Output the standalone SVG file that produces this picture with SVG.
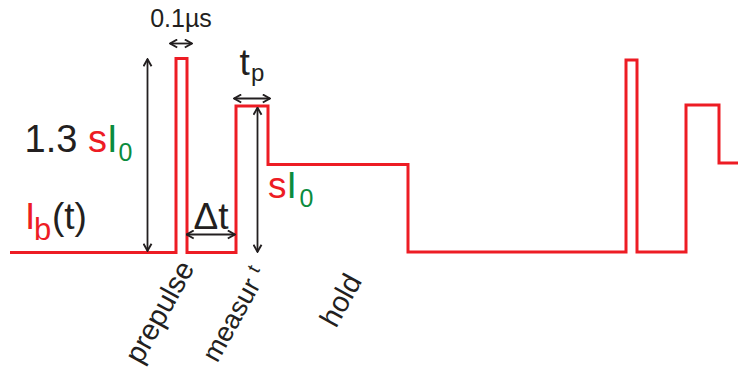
<svg xmlns="http://www.w3.org/2000/svg" width="738" height="368" viewBox="0 0 738 368">
<style>
text{font-family:"Liberation Sans",Arial,sans-serif;fill:#231F20}
.r{fill:#ED1C24}
.g{fill:#0B8C3E}
.arr{stroke:#231F20;stroke-width:1.8;fill:none;marker-start:url(#ah);marker-end:url(#ah)}
</style>
<defs>
<marker id="ah" viewBox="0 0 10 10" refX="9.2" refY="5" markerWidth="10" markerHeight="10" markerUnits="userSpaceOnUse" orient="auto-start-reverse">
<path d="M2,1 L9,5 L2,9" fill="none" stroke="#231F20" stroke-width="1.9"/>
</marker>
</defs>
<g id="signal">
<polyline fill="none" stroke="#ED1C24" stroke-width="3" points="10,252.5 176,252.5 176,58.5 187,58.5 187,252.5 236,252.5 236,106 268,106 268,164.5 408,164.5 408,252 626,252 626,60 637,60 637,252 686,252 686,105 719,105 719,163 738,163"/>
</g>
<g id="connectors">
<line class="arr" x1="147.5" y1="59" x2="147.5" y2="251"/>
<line class="arr" x1="170" y1="43.5" x2="192" y2="43.5"/>
<line class="arr" x1="186.5" y1="234.5" x2="235" y2="234.5"/>
<line class="arr" x1="234" y1="98.5" x2="270" y2="98.5"/>
<line class="arr" x1="257.5" y1="107.5" x2="257.5" y2="252"/>
</g>
<g id="label-width">
<text x="181" y="26.5" font-size="25" text-anchor="middle">0.1µs</text>
</g>
<g id="label-amp">
<text x="24.5" y="152" font-size="38">1.3 <tspan class="r">s</tspan><tspan class="g">I</tspan></text>
<text x="118.5" y="160.5" font-size="25" class="g">0</text>
</g>
<g id="label-ib">
<text x="25" y="228.5" font-size="37" class="r">I</text>
<text x="34" y="239.5" font-size="31" class="r">b</text>
<text x="52" y="228.5" font-size="37">(t)</text>
</g>
<g id="label-dt">
<text x="211" y="228.5" font-size="37" text-anchor="middle">Δt</text>
</g>
<g id="label-tp">
<text x="239.5" y="75" font-size="37">t</text>
<text x="251" y="80.5" font-size="24">p</text>
</g>
<g id="label-si0">
<text x="268" y="198" font-size="37"><tspan class="r">s</tspan><tspan class="g">I</tspan></text>
<text x="299.5" y="207" font-size="25" class="g">0</text>
</g>
<g id="label-prepulse">
<text x="195" y="268" font-size="29" text-anchor="end" transform="rotate(-61 195 268)">prepulse</text>
</g>
<g id="label-measure">
<text x="261" y="285" font-size="27" text-anchor="end" transform="rotate(-61 261 285)">measur</text>
<text x="259" y="272" font-size="19" text-anchor="middle" transform="rotate(-61 259 272)">t</text>
</g>
<g id="label-hold">
<text x="362.5" y="281" font-size="29" text-anchor="end" transform="rotate(-61 362.5 281)">hold</text>
</g>
</svg>
